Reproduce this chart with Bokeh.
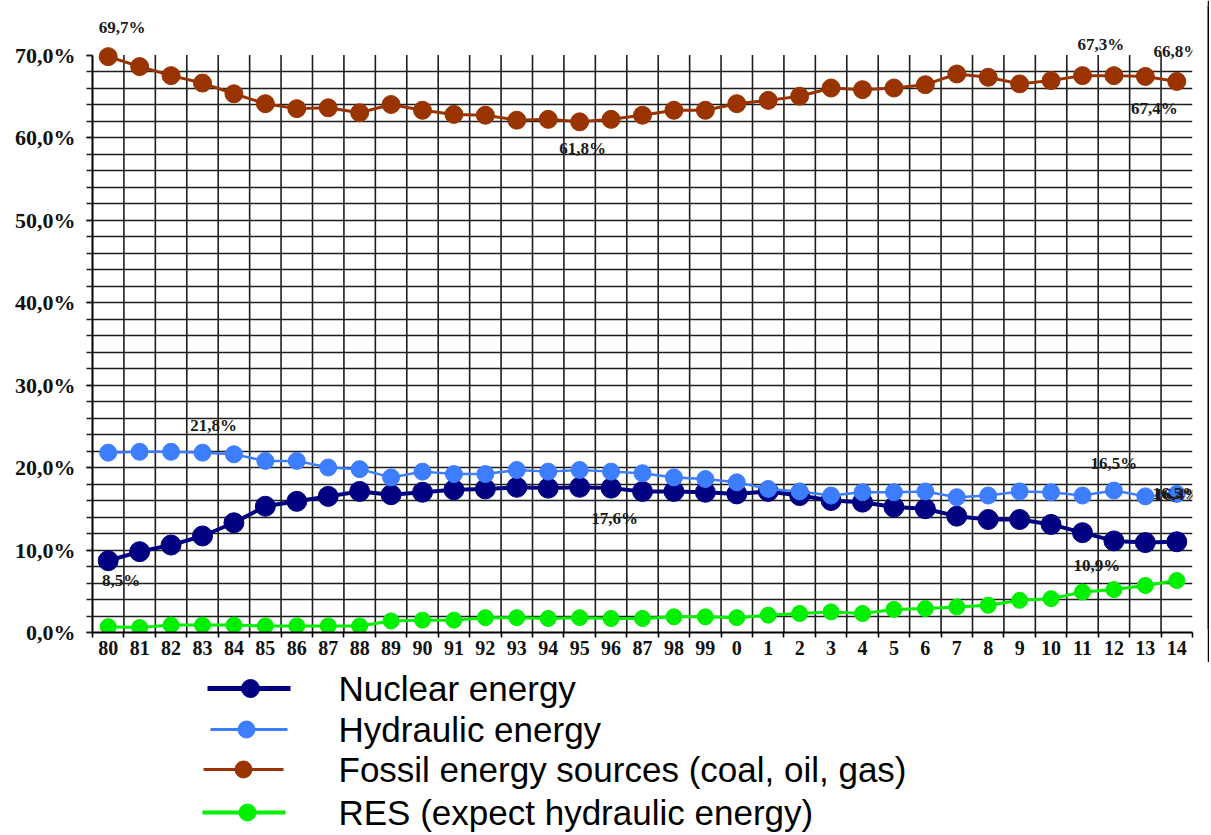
from bokeh.plotting import figure
from bokeh.models import Range1d, FixedTicker, ColumnDataSource, LabelSet
from bokeh.layouts import column, row
from bokeh.embed import file_html
from bokeh.resources import INLINE
from bokeh.core.properties import value

# ---------------- data ----------------
years = ["80", "81", "82", "83", "84", "85", "86", "87", "88", "89",
         "90", "91", "92", "93", "94", "95", "96", "87", "98", "99",
         "0", "1", "2", "3", "4", "5", "6", "7", "8", "9",
         "10", "11", "12", "13", "14"]

nuclear = [8.7, 9.8, 10.6, 11.7, 13.3, 15.3, 15.9, 16.5, 17.1, 16.7,
           17.0, 17.3, 17.4, 17.6, 17.5, 17.6, 17.5, 17.1, 17.1, 17.0,
           16.8, 17.1, 16.6, 16.0, 15.8, 15.2, 15.0, 14.1, 13.7, 13.7,
           13.1, 12.1, 11.1, 10.9, 11.0]

hydraulic = [21.8, 21.9, 21.9, 21.8, 21.6, 20.8, 20.8, 20.0, 19.8, 18.8,
             19.5, 19.2, 19.2, 19.7, 19.5, 19.7, 19.5, 19.3, 18.8, 18.6,
             18.2, 17.4, 17.1, 16.6, 17.0, 17.0, 17.1, 16.4, 16.6, 17.1,
             17.0, 16.6, 17.2, 16.5, 16.8]

fossil = [69.8, 68.6, 67.5, 66.6, 65.3, 64.1, 63.5, 63.6, 63.0, 64.0,
          63.3, 62.8, 62.7, 62.1, 62.2, 61.9, 62.2, 62.7, 63.3, 63.3,
          64.1, 64.5, 65.0, 66.0, 65.8, 66.0, 66.4, 67.7, 67.3, 66.5,
          66.9, 67.5, 67.5, 67.4, 66.8]

res = [0.7, 0.6, 0.9, 0.9, 0.9, 0.8, 0.8, 0.8, 0.8, 1.4,
       1.5, 1.5, 1.8, 1.8, 1.7, 1.8, 1.7, 1.7, 1.9, 1.9,
       1.8, 2.1, 2.3, 2.5, 2.3, 2.8, 2.9, 3.1, 3.3, 3.9,
       4.1, 4.9, 5.2, 5.7, 6.3]

series_names = ["Nuclear energy", "Hydraulic energy",
                "Fossil energy sources (coal, oil, gas)",
                "RES (expect hydraulic energy)"]

y_ticks = [0, 10, 20, 30, 40, 50, 60, 70]
y_tick_labels = ["0,0%", "10,0%", "20,0%", "30,0%", "40,0%", "50,0%", "60,0%", "70,0%"]

# data labels: (text, series, year index)
label_texts = ["69,7%", "61,8%", "67,3%", "66,8%", "67,4%",
               "21,8%", "16,5%", "16,4%", "16,5%",
               "8,5%", "17,6%", "10,9%"]
label_series = ["fossil", "fossil", "fossil", "fossil", "fossil",
                "hydraulic", "hydraulic", "hydraulic", "hydraulic",
                "nuclear", "nuclear", "nuclear"]
label_index = [0, 15, 32, 34, 33,
               3, 32, 34, 34,
               0, 15, 32]

# ---------------- styles ----------------
C_NUC = "#000080"
C_HYD = "#3d7dff"
C_FOS = "#993300"
C_RES = "#00f000"
GRID = "#1e1e1e"

N = len(years)
xs = list(range(N))

p = figure(frame_width=1100, frame_height=627,
           x_range=Range1d(-0.5, N - 0.5), y_range=Range1d(0, 76),
           output_backend="svg", toolbar_location=None,
           min_border_left=92, min_border_right=15,
           min_border_top=5, min_border_bottom=33)
p.outline_line_color = None
p.background_fill_color = "white"

# grid
p.xgrid.visible = False
p.ygrid.ticker = FixedTicker(ticks=[v for v in range(2, 70, 2)])
p.ygrid.grid_line_color = GRID
p.ygrid.grid_line_width = 1.6

bounds = [i + 0.5 for i in range(N - 1)]
p.segment(x0=bounds, y0=[0] * len(bounds), x1=bounds, y1=[70] * len(bounds),
          line_color=GRID, line_width=1.6)

# axes
ya = p.yaxis[0]
ya.ticker = FixedTicker(ticks=y_ticks, minor_ticks=[v for v in range(0, 72, 2)])
ya.major_label_overrides = {t: l for t, l in zip(y_ticks, y_tick_labels)}
ya.bounds = (0, 70)
ya.axis_line_color = "black"
ya.axis_line_width = 2
ya.major_tick_out = 6
ya.major_tick_in = 0
ya.minor_tick_out = 6
ya.minor_tick_in = 0
ya.major_tick_line_color = "black"
ya.minor_tick_line_color = GRID
ya.major_tick_line_width = 1.6
ya.minor_tick_line_width = 1.6
ya.major_label_standoff = 11
ya.major_label_text_font = "Liberation Serif"
ya.major_label_text_font_style = "bold"
ya.major_label_text_font_size = "22px"
ya.major_label_text_color = "#111111"

xa = p.xaxis[0]
xa.ticker = FixedTicker(ticks=xs, minor_ticks=[i - 0.5 for i in range(N + 1)])
xa.major_label_overrides = {i: y for i, y in enumerate(years)}
xa.axis_line_color = "black"
xa.axis_line_width = 2
xa.major_tick_line_color = None
xa.major_tick_out = 5
xa.major_tick_in = 0
xa.minor_tick_out = 5
xa.minor_tick_in = 0
xa.minor_tick_line_color = "black"
xa.minor_tick_line_width = 1.6
xa.major_label_standoff = 3
xa.major_label_text_font = "Liberation Serif"
xa.major_label_text_font_style = "bold"
xa.major_label_text_font_size = "20px"
xa.major_label_text_color = "#111111"

src = ColumnDataSource(dict(x=xs, nuclear=nuclear, hydraulic=hydraulic,
                            fossil=fossil, res=res))

# series
p.line("x", "res", source=src, line_color=C_RES, line_width=3)
p.scatter("x", "res", source=src, size=16, color=C_RES)
p.line("x", "nuclear", source=src, line_color=C_NUC, line_width=4)
p.scatter("x", "nuclear", source=src, size=20, color=C_NUC)
p.line("x", "hydraulic", source=src, line_color=C_HYD, line_width=2.5)
p.scatter("x", "hydraulic", source=src, size=17, color=C_HYD)
p.line("x", "fossil", source=src, line_color=C_FOS, line_width=3)
p.scatter("x", "fossil", source=src, size=18, color=C_FOS)

# data labels (LabelSet: not clipped to the frame; y_offset positive = up)
series_map = {"nuclear": nuclear, "hydraulic": hydraulic, "fossil": fossil, "res": res}
lab_x = [i for i in label_index]
lab_y = [series_map[s][i] for s, i in zip(label_series, label_index)]
lab_dx = [14, 3, -13, 0, 9, 11, 0, 1, -1, 13, 35, -17]
lab_dy = [29, -27, 31, 30, -32, 27, 27, -1, 0, -20, -31, -25]
lsrc = ColumnDataSource(dict(x=lab_x, y=lab_y, t=label_texts, dx=lab_dx, dy=lab_dy))
labels = LabelSet(x="x", y="y", text="t", source=lsrc, x_offset="dx", y_offset="dy",
                  text_align="center", text_baseline="middle",
                  text_font="Liberation Serif", text_font_style="bold",
                  text_font_size="17px", text_color="#1a1a1a")
p.add_layout(labels)

# right edge line
strip = figure(width=2, height=662, output_backend="svg", toolbar_location=None,
               x_axis_type=None, y_axis_type=None, min_border=0)
strip.outline_line_color = None
strip.background_fill_color = "black"
strip.border_fill_color = "black"
strip.xgrid.visible = False
strip.ygrid.visible = False

# ---------------- legend ----------------
lg = figure(width=1211, height=170, x_range=Range1d(0, 1211), y_range=Range1d(170, 0),
            output_backend="svg", toolbar_location=None,
            x_axis_type=None, y_axis_type=None, min_border=0)
lg.outline_line_color = None
lg.xgrid.visible = False
lg.ygrid.visible = False

leg_colors = [C_NUC, C_HYD, C_FOS, C_RES]
leg_y = [23, 64, 104, 147]
leg_x0 = [207, 210, 203, 202]
leg_x1 = [290, 287, 283, 285]
leg_mx = [250, 246, 243, 247]
leg_lw = [5, 3, 3, 4]
leg_ms = [18, 17, 17, 17]
for c, yy, a, b, m, lw, ms in zip(leg_colors, leg_y, leg_x0, leg_x1, leg_mx, leg_lw, leg_ms):
    lg.segment(x0=[a], y0=[yy], x1=[b], y1=[yy], line_color=c, line_width=lw)
    lg.scatter(x=[m], y=[yy], size=ms, color=c)
lg.text(x=[338] * 4, y=leg_y, text=series_names, text_align="left", text_baseline="middle",
        text_font=value("Liberation Sans"), text_font_size="35px", text_color="black")

layout = column(row(p, strip), lg)
open("out.html", "w").write(file_html(layout, INLINE))
